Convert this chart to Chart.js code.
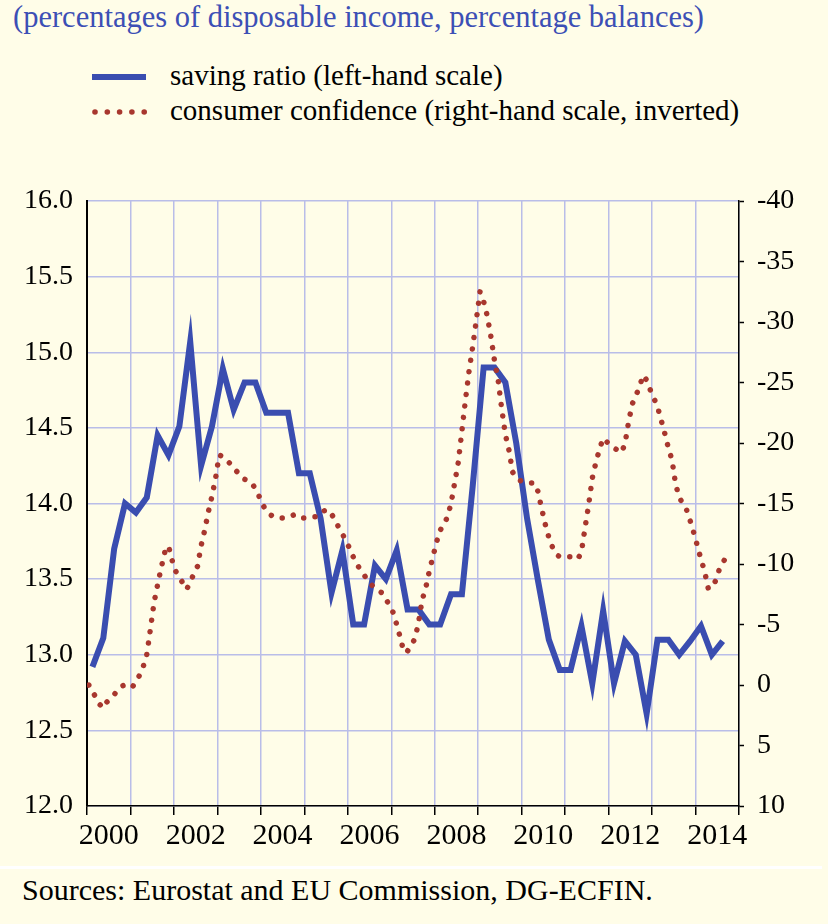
<!DOCTYPE html>
<html>
<head>
<meta charset="utf-8">
<script src="https://cdn.jsdelivr.net/npm/chart.js@4.4.1/dist/chart.umd.min.js"></script>
<style>
  body { margin: 0; background: #fffde8; }
  #page { position: relative; width: 828px; height: 924px; background: #fffde8; overflow: hidden;
          font-family: "Liberation Serif", "DejaVu Serif", serif; }
  #title { position: absolute; left: 13px; top: 0px; font-size: 30.5px; color: #3c4fb5; white-space: nowrap; }
  .leg { position: absolute; left: 170px; font-size: 29px; color: #000; white-space: nowrap; }
  #legBlue { position: absolute; left: 92px; top: 74px; width: 54px; height: 6px; background: #3a4db0; }
  #legRed { position: absolute; left: 90px; top: 108px; width: 60px; height: 8px; }
  #sep { position: absolute; left: 0; top: 866px; width: 822px; height: 3px; background: #fff; }
  #source { position: absolute; left: 22px; top: 873px; font-size: 30px; color: #000; white-space: nowrap; }
  #wrap { position: absolute; left: 0; top: 170px; width: 828px; height: 690px; }
</style>
</head>
<body>
<div id="page">
  <div id="title">(percentages of disposable income, percentage balances)</div>
  <div id="legBlue"></div>
  <div class="leg" style="top:59px">saving ratio (left-hand scale)</div>
  <canvas id="legRed" width="60" height="8"></canvas>
  <div class="leg" style="top:94px">consumer confidence (right-hand scale, inverted)</div>
  <div id="wrap"><canvas id="chart"></canvas></div>
  <div id="sep"></div>
  <div id="source">Sources: Eurostat and EU Commission, DG-ECFIN.</div>
</div>
<script>
// Saving ratio, quarterly from 2000 Q1 (left-hand scale, % of disposable income)
const savingRatio = [
  12.92, 13.11, 13.7, 14.0, 13.94, 14.04, 14.45, 14.32, 14.51, 15.07, 14.25, 14.51,
  14.89, 14.62, 14.8, 14.8, 14.6, 14.6, 14.6, 14.2, 14.2, 13.9, 13.41, 13.69,
  13.2, 13.2, 13.59, 13.5, 13.69, 13.3, 13.3, 13.2, 13.2, 13.4, 13.4, 14.12,
  14.9, 14.9, 14.8, 14.4, 13.9, 13.49, 13.1, 12.9, 12.9, 13.19, 12.81, 13.29,
  12.81, 13.09, 13.0, 12.61, 13.1, 13.1, 13.0, 13.09, 13.19, 13.0, 13.09
];

// Consumer confidence, monthly from January 2000 (right-hand scale, inverted)
const confidence = [
  0.0, 0.6, 1.0, 1.6, 1.9, 1.4, 1.1, 0.8, 0.4, 0.1, 0.0, 0.1,
  0.2, -0.3, -0.8, -1.5, -2.5, -4.6, -6.8, -8.3, -9.7, -11.0, -11.5, -10.3,
  -9.4, -8.9, -8.4, -7.9, -8.5, -9.2, -9.8, -11.5, -12.8, -14.3, -15.6, -17.1,
  -19.0, -18.9, -18.6, -18.3, -17.9, -17.6, -17.2, -17.0, -16.9, -16.7, -16.2, -15.6,
  -14.9, -14.4, -14.1, -13.9, -13.9, -13.8, -13.8, -13.9, -14.0, -14.1, -13.9, -13.8,
  -13.8, -13.8, -13.9, -13.9, -14.1, -14.4, -14.5, -14.1, -13.7, -13.0, -12.5, -11.9,
  -11.3, -10.6, -10.0, -9.5, -9.1, -8.6, -8.3, -8.0, -7.8, -7.6, -7.1, -6.6,
  -6.0, -5.0, -3.9, -2.7, -2.8, -3.3, -3.8, -5.1, -7.0, -8.0, -9.4, -10.6,
  -11.8, -12.8, -13.2, -13.9, -15.0, -16.7, -18.4, -21.0, -23.6, -26.0, -28.0, -30.2,
  -32.5, -31.7, -30.5, -28.8, -26.8, -25.2, -22.8, -20.7, -19.4, -17.6, -17.1, -16.9,
  -16.8, -16.8, -16.7, -16.7, -16.0, -14.6, -13.3, -12.2, -11.4, -10.8, -10.6, -10.6,
  -10.6, -10.6, -10.5, -10.4, -11.0, -13.0, -14.9, -17.1, -18.4, -19.5, -20.4, -20.1,
  -19.8, -19.6, -19.4, -19.2, -19.9, -21.7, -23.2, -23.9, -24.6, -25.6, -25.2, -24.4,
  -23.7, -23.0, -21.9, -20.8, -19.6, -18.6, -16.6, -15.5, -15.0, -14.5, -13.6, -12.6,
  -11.5, -10.4, -9.4, -8.0, -8.0, -8.6, -9.5, -10.1, -10.6
];

// Axis ranges and tick labels
const startYear = 2000;
const endYear = 2015;
const leftTicks = [12.0, 12.5, 13.0, 13.5, 14.0, 14.5, 15.0, 15.5, 16.0];
const rightTicks = [-40, -35, -30, -25, -20, -15, -10, -5, 0, 5, 10];
const yearLabels = [2000, 2002, 2004, 2006, 2008, 2010, 2012, 2014];

const BLUE = "#3a4db0";
const RED = "#a8372e";
const GRID = "#b9bde8";
const FONT = "Liberation Serif";

// time positions: quarter and month mid-points
const savingPoints = savingRatio.map((v, i) => ({ x: startYear + i / 4 + 0.125, y: v }));
const confPoints = confidence.map((v, i) => ({ x: startYear + (i + 0.5) / 12, y: v }));

// legend dots
(function () {
  const c = document.getElementById("legRed").getContext("2d");
  c.fillStyle = RED;
  for (let i = 0; i < 5; i++) {
    c.beginPath();
    c.arc(5 + i * 12.3, 4, 2.8, 0, Math.PI * 2);
    c.fill();
  }
})();

new Chart(document.getElementById("chart"), {
  type: "line",
  data: {
    datasets: [
      {
        label: "consumer confidence",
        data: confPoints,
        yAxisID: "y2",
        borderColor: RED,
        borderWidth: 5.5,
        borderDash: [0.01, 11.5],
        borderCapStyle: "round",
        pointRadius: 0,
        tension: 0,
        order: 0,
      },
      {
        label: "saving ratio",
        data: savingPoints,
        yAxisID: "y",
        borderColor: BLUE,
        borderWidth: 6,
        borderJoinStyle: "miter",
        pointRadius: 0,
        tension: 0,
        order: 1,
      },
    ],
  },
  options: {
    responsive: true,
    maintainAspectRatio: false,
    animation: false,
    layout: { padding: { top: 31, left: 0, right: 0, bottom: 0 } },
    plugins: { legend: { display: false }, tooltip: { enabled: false } },
    scales: {
      x: {
        type: "linear",
        min: startYear,
        max: endYear,
        afterFit: (s) => { s.height = 54; },
        grid: { color: GRID, lineWidth: 1.5, tickColor: "#000", tickLength: 9, tickWidth: 1.5 },
        border: { color: "#000", width: 1.5 },
        ticks: {
          stepSize: 1,
          autoSkip: false,
          maxRotation: 0,
          labelOffset: 21.7,
          padding: 3,
          color: "#000",
          font: { family: FONT, size: 30 },
          callback: (v) => (yearLabels.includes(v) ? String(v) : ""),
        },
      },
      y: {
        position: "left",
        min: leftTicks[0],
        max: leftTicks[leftTicks.length - 1],
        afterFit: (s) => { s.width = 87; },
        afterBuildTicks: (s) => { s.ticks = leftTicks.map((v) => ({ value: v })); },
        grid: { color: GRID, lineWidth: 1.5, drawTicks: false },
        border: { color: "#000", width: 2 },
        ticks: {
          padding: 14,
          color: "#000",
          font: { family: FONT, size: 28 },
          callback: (v) => v.toFixed(1),
        },
      },
      y2: {
        position: "right",
        reverse: true,
        min: rightTicks[0],
        max: rightTicks[rightTicks.length - 1],
        afterFit: (s) => { s.width = 89; },
        afterBuildTicks: (s) => { s.ticks = rightTicks.map((v) => ({ value: v })); },
        grid: { drawOnChartArea: false, tickColor: "#000", tickLength: 5, tickWidth: 1.5 },
        border: { color: "#000", width: 1.5 },
        ticks: {
          padding: 13,
          color: "#000",
          font: { family: FONT, size: 28 },
          callback: (v) => String(v),
        },
      },
    },
  },
});
</script>
</body>
</html>
